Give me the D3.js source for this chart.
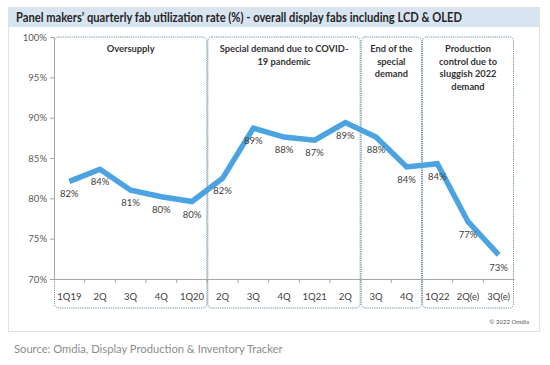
<!DOCTYPE html>
<html><head><meta charset="utf-8">
<script src="https://cdn.jsdelivr.net/npm/d3@7"></script>
<style>
body{margin:0;background:#fff;}
svg text{font-family:Lato,"Open Sans",sans-serif;}
</style></head>
<body><svg id="c" width="550" height="365"></svg>
<script>
const categories = ["1Q19","2Q","3Q","4Q","1Q20","2Q","3Q","4Q","1Q21","2Q","3Q","4Q","1Q22","2Q(e)","3Q(e)"];
const values = [82.1,83.6,81.0,80.2,79.6,82.5,88.7,87.6,87.2,89.4,87.6,83.9,84.3,77.1,73.0];
const valueLabels = ["82%","84%","81%","80%","80%","82%","89%","88%","87%","89%","88%","84%","84%","77%","73%"];
const yTicks = [70,75,80,85,90,95,100];
const groupStarts = [0,5,10,12];
const groupEnds = [5,10,12,15];
const groupLabels = [["Oversupply"],["Special demand due to COVID-","19 pandemic"],["End of the","special","demand"],["Production","control due to","sluggish 2022","demand"]];

const svg = d3.select("#c");
// card
svg.append("rect").attr("x",8.5).attr("y",7.5).attr("width",531).attr("height",324).attr("fill","#fff").attr("stroke","#e3e3e3");
svg.append("rect").attr("x",9).attr("y",8).attr("width",530).attr("height",19).attr("fill","#d9e4f1");
svg.append("text").attr("x",16).attr("y",22).attr("font-size",12.8).attr("font-weight","bold").attr("fill","#262626")
  .attr("textLength",446).attr("lengthAdjust","spacingAndGlyphs")
  .text("Panel makers’ quarterly fab utilization rate (%) - overall display fabs including LCD & OLED");

const x = d3.scaleBand().domain(d3.range(categories.length)).range([54,514]);
const y = d3.scaleLinear().domain([70,100]).range([279,37]);

// group boxes
groupStarts.forEach((s,i)=>{
  const x0 = x(s), x1 = x(groupEnds[i]-1)+x.bandwidth();
  svg.append("rect").attr("x",x0+0.5).attr("y",37).attr("width",x1-x0-1).attr("height",271)
    .attr("rx",4).attr("fill","none").attr("stroke","#6f8f9c").attr("stroke-width",1).attr("stroke-dasharray","1.2,1");
  groupLabels[i].forEach((t,j)=>{
    svg.append("text").attr("x",(x0+x1)/2).attr("y",52+j*12.5).attr("text-anchor","middle")
      .attr("font-size",9.3).attr("font-weight","bold").attr("fill","#333").text(t);
  });
});

// y axis
const yAxis = d3.axisLeft(y).tickValues(yTicks).tickFormat(d=>d+"%").tickSize(4).tickSizeOuter(0);
const gy = svg.append("g").attr("transform","translate(54,0)").call(yAxis);
gy.select(".domain").attr("stroke","#a6a6a6");
gy.selectAll(".tick line").attr("stroke","#a6a6a6");
gy.selectAll("text").attr("font-size",9.5).attr("fill","#595959").attr("x",-7).attr("font-family","Lato,sans-serif");

// x axis
const xAxis = d3.axisBottom(x).tickFormat(i=>categories[i]).tickSize(0);
const gx = svg.append("g").attr("transform","translate(0,279)").call(xAxis);
gx.select(".domain").attr("stroke","#a6a6a6");
gx.selectAll("text").attr("font-size",9.5).attr("fill","#404040").attr("dy","0").attr("y",21).attr("font-family","Lato,sans-serif");
// category boundary ticks
gx.selectAll(".sep").data(d3.range(1,categories.length)).join("line").attr("class","sep")
  .attr("x1",i=>x(i)).attr("x2",i=>x(i)).attr("y1",0).attr("y2",4).attr("stroke","#a6a6a6");

// line
const line = d3.line().x((d,i)=>x(i)+x.bandwidth()/2).y(d=>y(d));
svg.append("path").datum(values).attr("d",line).attr("fill","none").attr("stroke","#4ba3e2")
  .attr("stroke-width",5.5).attr("stroke-linejoin","miter");

svg.selectAll(".vl").data(values).join("text").attr("class","vl")
  .attr("x",(d,i)=>x(i)+x.bandwidth()/2).attr("y",d=>y(d)+16).attr("text-anchor","middle")
  .attr("font-size",9.5).attr("fill","#404040").text((d,i)=>valueLabels[i]);

svg.append("text").attr("x",529).attr("y",324).attr("text-anchor","end").attr("font-size",6).attr("fill","#555").text("© 2022 Omdia");
svg.append("text").attr("x",14).attr("y",353).attr("font-size",11.2).attr("fill","#8c8c8c").text("Source: Omdia, Display Production & Inventory Tracker");
</script></body></html>
